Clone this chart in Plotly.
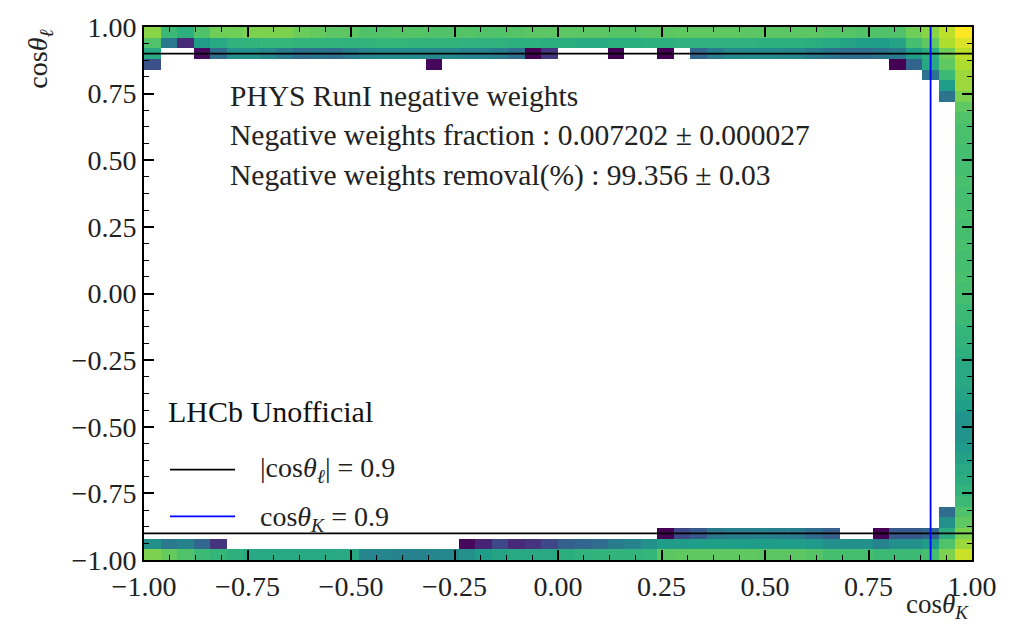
import plotly.graph_objects as go

N = 50
X0, DX = -0.98, 0.04
E = None

# ---- colour levels (viridis position, 0 = dark purple, 1 = yellow) ----
# top rows (y bins 49 .. 43), index = x bin 0..49
row49 = [0.82, 0.68, 0.63, 0.72, 0.78, 0.78, 0.80, 0.80, 0.80, 0.77,
         0.76, 0.74, 0.74, 0.72, 0.72, 0.73, 0.73, 0.72, 0.72, 0.73,
         0.72, 0.72, 0.73, 0.74, 0.74, 0.74, 0.74, 0.74, 0.73, 0.73,
         0.74, 0.74, 0.75, 0.75, 0.75, 0.75, 0.74, 0.74, 0.74, 0.74,
         0.74, 0.73, 0.73, 0.72, 0.72, 0.72, 0.78, 0.82, 0.90, 1.00]
row48 = [0.72, 0.40, 0.12, 0.55, 0.60, 0.64, 0.65, 0.66, 0.66, 0.65,
         0.65, 0.65, 0.64, 0.65, 0.66, 0.66, 0.65, 0.65, 0.65, 0.64,
         0.64, 0.64, 0.63, 0.63, 0.62, 0.62, 0.61, 0.61, 0.62, 0.62,
         0.63, 0.63, 0.64, 0.64, 0.64, 0.64, 0.64, 0.63, 0.63, 0.63,
         0.62, 0.60, 0.58, 0.56, 0.55, 0.58, 0.70, 0.75, 0.88, 0.95]
row47 = [0.60, E, E, 0.03, 0.35, 0.50, 0.50, 0.47, 0.42, 0.36,
         0.38, 0.36, 0.42, 0.46, 0.48, 0.48, 0.48, 0.47, 0.47, 0.45,
         0.45, 0.42, 0.36, 0.00, 0.15, E, E, E, 0.00, E,
         E, 0.00, E, 0.33, 0.42, 0.47, 0.48, 0.48, 0.47, 0.46,
         0.42, 0.38, 0.35, 0.35, 0.38, 0.42, 0.55, 0.62, 0.78, 0.90]
row46 = [0.25] + [E] * 16 + [0.02] + [E] * 27 + [0.00, 0.32, 0.60, 0.75, 0.88]
row45 = [E] * 47 + [0.38, 0.68, 0.85]
row44 = [E] * 48 + [0.55, 0.85]
row43 = [E] * 48 + [0.38, 0.80]

# bottom rows (y bins 0 .. 4)
row0 = [0.80, 0.76, 0.72, 0.68, 0.66, 0.63, 0.60, 0.60, 0.60, 0.60,
        0.60, 0.60, 0.60, 0.46, 0.46, 0.45, 0.45, 0.46, 0.47, 0.50,
        0.55, 0.58, 0.60, 0.60, 0.60, 0.62, 0.64, 0.65, 0.65, 0.65,
        0.66, 0.74, 0.75, 0.75, 0.75, 0.75, 0.75, 0.74, 0.74, 0.74,
        0.73, 0.70, 0.70, 0.70, 0.68, 0.68, 0.68, 0.70, 0.80, 0.92]
row1 = [0.50, 0.40, 0.45, 0.33, 0.15] + [E] * 14 + \
       [0.02, 0.10, 0.22, 0.12, 0.15, 0.22, 0.30, 0.33, 0.35, 0.42,
        0.45, 0.50, 0.55, 0.55, 0.56, 0.56, 0.56, 0.55, 0.55, 0.55,
        0.55, 0.54, 0.50, 0.50, 0.50, 0.45, 0.50, 0.50, 0.55, 0.72, 0.85]
row2 = [E] * 31 + [0.00, 0.22, 0.28, 0.40, 0.43, 0.43, 0.44, 0.43, 0.42,
                   0.35, 0.30, E, E, 0.00, 0.28, 0.28, 0.32, 0.62, 0.80]
row3 = [E] * 48 + [0.50, 0.75]
row4 = [E] * 48 + [0.35, 0.72]

# right-most column (x bin 49), y bins 5 .. 42
col49_mid = [0.68, 0.65, 0.62, 0.60, 0.57, 0.54, 0.52, 0.52, 0.52, 0.56,
             0.58, 0.60, 0.60, 0.60, 0.63, 0.65, 0.66, 0.68, 0.68, 0.70,
             0.70, 0.71, 0.70, 0.70, 0.71, 0.70, 0.70, 0.71, 0.70, 0.70,
             0.71, 0.70, 0.70, 0.70, 0.71, 0.71, 0.72, 0.75]

cut_l = 0.9   # |cos theta_l| cut
cut_k = 0.9   # cos theta_K cut

tick_vals = [-1.0, -0.75, -0.5, -0.25, 0.0, 0.25, 0.5, 0.75, 1.0]
tick_text = ["\u22121.00", "\u22120.75", "\u22120.50", "\u22120.25", "0.00",
             "0.25", "0.50", "0.75", "1.00"]

legend_title = "LHCb Unofficial"
label_l = "|cos<i>\u03b8</i><sub><i>\u2113</i></sub>| = 0.9"
label_k = "cos<i>\u03b8</i><sub><i>K</i></sub> = 0.9"

# ---- assemble matrix ----
z = [[E] * N for _ in range(N)]
for r, row in [(49, row49), (48, row48), (47, row47), (46, row46), (45, row45),
               (44, row44), (43, row43), (0, row0), (1, row1), (2, row2),
               (3, row3), (4, row4)]:
    assert len(row) == N, (r, len(row))
    z[r] = list(row)
for k, v in enumerate(col49_mid):
    z[5 + k][49] = v

FONT = "Liberation Serif"
TXT = "#222"

fig = go.Figure()
fig.add_trace(go.Heatmap(z=z, x0=X0, dx=DX, y0=X0, dy=DX, colorscale="Viridis",
                         zmin=0, zmax=1, showscale=False, zsmooth=False,
                         hoverongaps=False, showlegend=False))
fig.add_trace(go.Scatter(x=[-1, 1, None, -1, 1], y=[cut_l, cut_l, None, -cut_l, -cut_l],
                         mode="lines", line=dict(color="black", width=1.8),
                         name=label_l, showlegend=False))
fig.add_trace(go.Scatter(x=[cut_k, cut_k], y=[-1, 1], mode="lines",
                         line=dict(color="#0000ff", width=1.8),
                         name=label_k, showlegend=False))

axis_common = dict(range=[-1, 1], tickvals=tick_vals, ticktext=tick_text,
                   ticks="inside", ticklen=10, tickwidth=1.6, tickcolor="black",
                   showline=True, linecolor="black", linewidth=2, mirror="allticks",
                   showgrid=False, zeroline=False,
                   tickfont=dict(family=FONT, size=28, color=TXT),
                   minor=dict(dtick=0.0625, tick0=-1, ticks="inside", ticklen=5,
                              tickwidth=1.3, tickcolor="black", showgrid=False))

def ann(text, x, y, size, **kw):
    d = dict(text=text, x=x, y=y, xref="paper", yref="paper", xanchor="left",
             yanchor="middle", showarrow=False, font=dict(family=FONT, size=size, color=TXT))
    d.update(kw)
    return d

fig.update_layout(
    width=1026, height=624,
    margin=dict(l=144, r=54, t=23, b=64),
    plot_bgcolor="white", paper_bgcolor="white",
    xaxis=axis_common, yaxis=axis_common,
    font=dict(family=FONT, color=TXT),
    showlegend=False,
    shapes=[
        dict(type="line", xref="paper", yref="paper", x0=0.0314, x1=0.110,
             y0=0.1695, y1=0.1695, line=dict(color="black", width=1.8)),
        dict(type="line", xref="paper", yref="paper", x0=0.0314, x1=0.110,
             y0=0.082, y1=0.082, line=dict(color="#0000ff", width=1.8)),
    ],
    annotations=[
        ann("PHYS RunI negative weights", 0.101, 0.870, 29.5),
        ann("Negative weights fraction : 0.007202 \u00b1 0.000027", 0.101, 0.797, 29.5),
        ann("Negative weights removal(%) : 99.356 \u00b1 0.03", 0.101, 0.722, 29.5),
        ann(legend_title, 0.027, 0.279, 30, font=dict(family=FONT, size=30, color="#111")),
        ann(label_l, 0.1377, 0.1695, 28),
        ann(label_k, 0.1377, 0.078, 28),
        ann("cos<i>\u03b8</i><sub><i>\u2113</i></sub>", -0.126, 0.94, 28,
            xanchor="center", textangle=-90),
        ann("cos<i>\u03b8</i><sub><i>K</i></sub>", 0.958, -0.086, 27, xanchor="center"),
    ],
)

fig.write_html("out.html")
